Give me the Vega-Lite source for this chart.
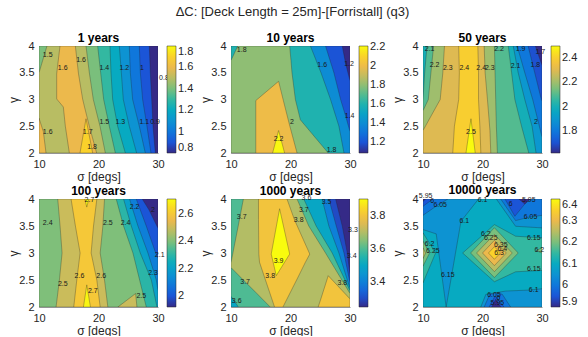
{
"$schema": "https://vega.github.io/schema/vega-lite/v6.json",
"padding": {"left": 7, "top": 6, "right": 0, "bottom": 0},
"title": {"text": "ΔC: [Deck Length = 25m]-[Forristall] (q3)", "fontSize": 13, "fontWeight": "normal", "anchor": "middle", "offset": 13, "color": "#262626"},
"datasets": {
"areas": [
{"p":1,"k":1,"v":0.8,"g":4,"a":10,"b":30},{"p":1,"k":1,"v":0.8,"g":2,"a":10,"b":30},
{"p":1,"k":2,"v":0.9,"g":4,"a":10,"b":28.54},{"p":1,"k":2,"v":0.9,"g":3.5,"a":10,"b":28.71},{"p":1,"k":2,"v":0.9,"g":3,"a":10,"b":28.94},{"p":1,"k":2,"v":0.9,"g":2.5,"a":10,"b":29.16},{"p":1,"k":2,"v":0.9,"g":2,"a":10,"b":29.55},
{"p":1,"k":3,"v":1.0,"g":4,"a":10,"b":26.86},{"p":1,"k":3,"v":1.0,"g":3.5,"a":10,"b":27.03},{"p":1,"k":3,"v":1.0,"g":3,"a":10,"b":27.42},{"p":1,"k":3,"v":1.0,"g":2.5,"a":10,"b":28.15},{"p":1,"k":3,"v":1.0,"g":2,"a":10,"b":28.82},
{"p":1,"k":4,"v":1.1,"g":4,"a":10,"b":25.18},{"p":1,"k":4,"v":1.1,"g":3.5,"a":10,"b":25.35},{"p":1,"k":4,"v":1.1,"g":3,"a":10,"b":25.74},{"p":1,"k":4,"v":1.1,"g":2.5,"a":10,"b":26.86},{"p":1,"k":4,"v":1.1,"g":2,"a":10,"b":27.87},
{"p":1,"k":5,"v":1.2,"g":4,"a":10,"b":23.5},{"p":1,"k":5,"v":1.2,"g":3.5,"a":10,"b":23.84},{"p":1,"k":5,"v":1.2,"g":3,"a":10,"b":24.17},{"p":1,"k":5,"v":1.2,"g":2.5,"a":10,"b":25.18},{"p":1,"k":5,"v":1.2,"g":2,"a":10,"b":26.41},
{"p":1,"k":6,"v":1.3,"g":4,"a":10,"b":21.93},{"p":1,"k":6,"v":1.3,"g":3.5,"a":10,"b":22.1},{"p":1,"k":6,"v":1.3,"g":3,"a":10,"b":22.38},{"p":1,"k":6,"v":1.3,"g":2.5,"a":10,"b":23.22},{"p":1,"k":6,"v":1.3,"g":2,"a":10,"b":24.51},
{"p":1,"k":7,"v":1.4,"g":4,"a":10,"b":19.86},{"p":1,"k":7,"v":1.4,"g":3.5,"a":10,"b":20.36},{"p":1,"k":7,"v":1.4,"g":3,"a":10,"b":20.87},{"p":1,"k":7,"v":1.4,"g":2.5,"a":10,"b":21.82},{"p":1,"k":7,"v":1.4,"g":2,"a":10,"b":22.83},
{"p":1,"k":8,"v":1.5,"g":4,"a":11.34,"b":17.9},{"p":1,"k":8,"v":1.5,"g":3.5,"a":10,"b":18.46},{"p":1,"k":8,"v":1.5,"g":3,"a":10,"b":19.13},{"p":1,"k":8,"v":1.5,"g":2.5,"a":10,"b":20.25},{"p":1,"k":8,"v":1.5,"g":2,"a":10,"b":21.15},
{"p":1,"k":9,"v":1.6,"g":4,"a":13.53,"b":16.11},{"p":1,"k":9,"v":1.6,"g":3.48,"a":12.97,"b":16.64},{"p":1,"k":9,"v":1.6,"g":3.01,"a":12.97,"b":17.33},{"p":1,"k":9,"v":1.6,"g":2.86,"a":14.09,"b":17.65},{"p":1,"k":9,"v":1.6,"g":2.5,"a":14.43,"b":18.46},{"p":1,"k":9,"v":1.6,"g":2,"a":15.1,"b":19.69},
{"p":1,"k":10,"v":1.6,"g":2.65,"a":10,"b":10},{"p":1,"k":10,"v":1.6,"g":2.4,"a":10,"b":10.73},{"p":1,"k":10,"v":1.6,"g":2,"a":10,"b":11.18},
{"p":1,"k":11,"v":1.7,"g":2.64,"a":17.9,"b":17.9},{"p":1,"k":11,"v":1.7,"g":2,"a":16.89,"b":19.02},

{"p":2,"k":1,"v":1.09,"g":4,"a":10,"b":30},{"p":2,"k":1,"v":1.09,"g":2,"a":10,"b":30},
{"p":2,"k":2,"v":1.2,"g":4,"a":10,"b":28.7},{"p":2,"k":2,"v":1.2,"g":3.67,"a":10,"b":29.27},{"p":2,"k":2,"v":1.2,"g":3.35,"a":10,"b":30},{"p":2,"k":2,"v":1.2,"g":2,"a":10,"b":30},
{"p":2,"k":3,"v":1.4,"g":4,"a":10,"b":25.89},{"p":2,"k":3,"v":1.4,"g":3.5,"a":10,"b":27.3},{"p":2,"k":3,"v":1.4,"g":3,"a":10,"b":28.42},{"p":2,"k":3,"v":1.4,"g":2.69,"a":10,"b":29.27},{"p":2,"k":3,"v":1.4,"g":2.4,"a":10,"b":30},{"p":2,"k":3,"v":1.4,"g":2,"a":10,"b":30},
{"p":2,"k":4,"v":1.6,"g":4,"a":10,"b":23.35},{"p":2,"k":4,"v":1.6,"g":3.5,"a":10,"b":25.13},{"p":2,"k":4,"v":1.6,"g":3,"a":10,"b":26.73},{"p":2,"k":4,"v":1.6,"g":2.5,"a":10,"b":28.14},{"p":2,"k":4,"v":1.6,"g":2,"a":10,"b":28.99},
{"p":2,"k":5,"v":1.8,"g":4,"a":11.13,"b":19.86},{"p":2,"k":5,"v":1.8,"g":3.73,"a":10,"b":20.08},{"p":2,"k":5,"v":1.8,"g":3.5,"a":10,"b":20.25},{"p":2,"k":5,"v":1.8,"g":3,"a":10,"b":20.82},{"p":2,"k":5,"v":1.8,"g":2.62,"a":10,"b":21.66},{"p":2,"k":5,"v":1.8,"g":2,"a":10,"b":26.34},
{"p":2,"k":6,"v":2.0,"g":3.34,"a":18,"b":18},{"p":2,"k":6,"v":2.0,"g":2.98,"a":14.17,"b":18.8},{"p":2,"k":6,"v":2.0,"g":2.54,"a":14.17,"b":19.8},{"p":2,"k":6,"v":2.0,"g":2,"a":14.17,"b":21.1},
{"p":2,"k":7,"v":2.2,"g":2.42,"a":18,"b":18},{"p":2,"k":7,"v":2.2,"g":2,"a":16.99,"b":19.01},

{"p":3,"k":1,"v":1.62,"g":4,"a":10,"b":30},{"p":3,"k":1,"v":1.62,"g":2,"a":10,"b":30},
{"p":3,"k":2,"v":1.7,"g":4,"a":10,"b":28.89},{"p":3,"k":2,"v":1.7,"g":3.64,"a":10,"b":30},{"p":3,"k":2,"v":1.7,"g":2,"a":10,"b":30},
{"p":3,"k":3,"v":1.8,"g":4,"a":10,"b":27.67},{"p":3,"k":3,"v":1.8,"g":3.5,"a":10,"b":28.78},{"p":3,"k":3,"v":1.8,"g":3,"a":10,"b":29.89},{"p":3,"k":3,"v":1.8,"g":2.97,"a":10,"b":30},{"p":3,"k":3,"v":1.8,"g":2,"a":10,"b":30},
{"p":3,"k":4,"v":1.9,"g":4,"a":10,"b":25.83},{"p":3,"k":4,"v":1.9,"g":3.5,"a":10,"b":27.11},{"p":3,"k":4,"v":1.9,"g":3,"a":10,"b":28.44},{"p":3,"k":4,"v":1.9,"g":2.5,"a":10,"b":29.56},{"p":3,"k":4,"v":1.9,"g":2.3,"a":10,"b":30},{"p":3,"k":4,"v":1.9,"g":2,"a":10,"b":30},
{"p":3,"k":5,"v":2.0,"g":4,"a":10,"b":25.17},{"p":3,"k":5,"v":2.0,"g":3.5,"a":10,"b":26.0},{"p":3,"k":5,"v":2.0,"g":3,"a":10,"b":27.11},{"p":3,"k":5,"v":2.0,"g":2.5,"a":10,"b":28.33},{"p":3,"k":5,"v":2.0,"g":2,"a":10,"b":29.0},
{"p":3,"k":6,"v":2.1,"g":4,"a":10.67,"b":24.33},{"p":3,"k":6,"v":2.1,"g":3.5,"a":10.28,"b":24.89},{"p":3,"k":6,"v":2.1,"g":3,"a":10,"b":25.44},{"p":3,"k":6,"v":2.1,"g":2.5,"a":10,"b":26.56},{"p":3,"k":6,"v":2.1,"g":2,"a":10,"b":27.78},
{"p":3,"k":7,"v":2.2,"g":4,"a":11.78,"b":22.0},{"p":3,"k":7,"v":2.2,"g":3.5,"a":11.33,"b":22.11},{"p":3,"k":7,"v":2.2,"g":3,"a":10.89,"b":22.22},{"p":3,"k":7,"v":2.2,"g":2.79,"a":10,"b":22.26},{"p":3,"k":7,"v":2.2,"g":2.5,"a":10,"b":22.33},{"p":3,"k":7,"v":2.2,"g":2,"a":10,"b":22.5},
{"p":3,"k":8,"v":2.3,"g":4,"a":13.61,"b":20.28},{"p":3,"k":8,"v":2.3,"g":3.5,"a":13.33,"b":20.44},{"p":3,"k":8,"v":2.3,"g":3,"a":12.89,"b":20.83},{"p":3,"k":8,"v":2.3,"g":2.42,"a":10,"b":21.25},{"p":3,"k":8,"v":2.3,"g":2,"a":10,"b":21.39},
{"p":3,"k":9,"v":2.4,"g":4,"a":16.0,"b":19.22},{"p":3,"k":9,"v":2.4,"g":3.5,"a":16.11,"b":19.33},{"p":3,"k":9,"v":2.4,"g":3,"a":16.0,"b":19.33},{"p":3,"k":9,"v":2.4,"g":2.5,"a":15.28,"b":19.56},{"p":3,"k":9,"v":2.4,"g":2,"a":15.0,"b":19.72},
{"p":3,"k":10,"v":2.5,"g":2.64,"a":18.06,"b":18.06},{"p":3,"k":10,"v":2.5,"g":2,"a":17.22,"b":18.78},

{"p":4,"k":1,"v":1.92,"g":4,"a":10,"b":30},{"p":4,"k":1,"v":1.92,"g":2,"a":10,"b":30},
{"p":4,"k":2,"v":2.0,"g":4,"a":10,"b":27.36},{"p":4,"k":2,"v":2.0,"g":3.8,"a":10,"b":28.48},{"p":4,"k":2,"v":2.0,"g":3.46,"a":10,"b":30},{"p":4,"k":2,"v":2.0,"g":2,"a":10,"b":30},
{"p":4,"k":3,"v":2.1,"g":4,"a":10,"b":26.35},{"p":4,"k":3,"v":2.1,"g":3.5,"a":10,"b":28.03},{"p":4,"k":3,"v":2.1,"g":3,"a":10,"b":29.61},{"p":4,"k":3,"v":2.1,"g":2.9,"a":10,"b":30},{"p":4,"k":3,"v":2.1,"g":2,"a":10,"b":30},
{"p":4,"k":4,"v":2.2,"g":4,"a":10,"b":25.22},{"p":4,"k":4,"v":2.2,"g":3.5,"a":10,"b":26.63},{"p":4,"k":4,"v":2.2,"g":3,"a":10,"b":28.31},{"p":4,"k":4,"v":2.2,"g":2.5,"a":10,"b":29.72},{"p":4,"k":4,"v":2.2,"g":2.3,"a":10,"b":30},{"p":4,"k":4,"v":2.2,"g":2,"a":10,"b":30},
{"p":4,"k":5,"v":2.3,"g":4,"a":10.73,"b":24.21},{"p":4,"k":5,"v":2.3,"g":3.5,"a":10.34,"b":25.51},{"p":4,"k":5,"v":2.3,"g":3.1,"a":10,"b":26.72},{"p":4,"k":5,"v":2.3,"g":3,"a":10,"b":27.02},{"p":4,"k":5,"v":2.3,"g":2.5,"a":10,"b":28.88},{"p":4,"k":5,"v":2.3,"g":2,"a":10,"b":29.83},
{"p":4,"k":6,"v":2.4,"g":4,"a":10,"b":22.98},{"p":4,"k":6,"v":2.4,"g":3.5,"a":10,"b":24.21},{"p":4,"k":6,"v":2.4,"g":3,"a":10,"b":25.79},{"p":4,"k":6,"v":2.4,"g":2.5,"a":10,"b":26.91},{"p":4,"k":6,"v":2.4,"g":2,"a":10,"b":28.03},
{"p":4,"k":7,"v":2.5,"g":4,"a":13.15,"b":21.01},{"p":4,"k":7,"v":2.5,"g":3.5,"a":13.54,"b":20.73},{"p":4,"k":7,"v":2.5,"g":3,"a":13.88,"b":20.28},{"p":4,"k":7,"v":2.5,"g":2.5,"a":13.43,"b":21.01},{"p":4,"k":7,"v":2.5,"g":2,"a":12.87,"b":21.57},
{"p":4,"k":8,"v":2.5,"g":2.25,"a":26.24,"b":26.24},{"p":4,"k":8,"v":2.5,"g":2,"a":23.26,"b":26.46},
{"p":4,"k":9,"v":2.6,"g":4,"a":15.39,"b":19.72},{"p":4,"k":9,"v":2.6,"g":3.5,"a":16.12,"b":19.16},{"p":4,"k":9,"v":2.6,"g":3,"a":16.91,"b":18.76},{"p":4,"k":9,"v":2.6,"g":2.5,"a":16.35,"b":19.72},{"p":4,"k":9,"v":2.6,"g":2,"a":15.84,"b":20.28},
{"p":4,"k":10,"v":2.7,"g":4,"a":17.7,"b":18.37},{"p":4,"k":10,"v":2.7,"g":3.85,"a":18.03,"b":18.03},
{"p":4,"k":11,"v":2.7,"g":2.41,"a":18.03,"b":18.03},{"p":4,"k":11,"v":2.7,"g":2,"a":17.47,"b":18.65},

{"p":5,"k":1,"v":3.25,"g":4,"a":10,"b":30},{"p":5,"k":1,"v":3.25,"g":2,"a":10,"b":30},
{"p":5,"k":2,"v":3.3,"g":4,"a":10,"b":27.58},{"p":5,"k":2,"v":3.3,"g":3.5,"a":10,"b":28.7},{"p":5,"k":2,"v":3.3,"g":3,"a":10,"b":29.55},{"p":5,"k":2,"v":3.3,"g":2.6,"a":10,"b":30},{"p":5,"k":2,"v":3.3,"g":2,"a":10,"b":30},
{"p":5,"k":3,"v":3.4,"g":4,"a":10,"b":26.45},{"p":5,"k":3,"v":3.4,"g":3.5,"a":10,"b":27.69},{"p":5,"k":3,"v":3.4,"g":3,"a":10,"b":28.99},{"p":5,"k":3,"v":3.4,"g":2.45,"a":10,"b":30},{"p":5,"k":3,"v":3.4,"g":2,"a":10,"b":30},
{"p":5,"k":4,"v":3.5,"g":4,"a":10,"b":25.32},{"p":5,"k":4,"v":3.5,"g":3.5,"a":10,"b":26.45},{"p":5,"k":4,"v":3.5,"g":3,"a":10,"b":28.14},{"p":5,"k":4,"v":3.5,"g":2.5,"a":10,"b":29.55},{"p":5,"k":4,"v":3.5,"g":2.35,"a":10,"b":30},{"p":5,"k":4,"v":3.5,"g":2,"a":10,"b":30},
{"p":5,"k":5,"v":3.6,"g":4,"a":10,"b":22.23},{"p":5,"k":5,"v":3.6,"g":3.5,"a":10,"b":24.31},{"p":5,"k":5,"v":3.6,"g":3,"a":10,"b":27.01},{"p":5,"k":5,"v":3.6,"g":2.5,"a":10,"b":29.15},{"p":5,"k":5,"v":3.6,"g":2.3,"a":10,"b":30},{"p":5,"k":5,"v":3.6,"g":2.2,"a":10,"b":30},{"p":5,"k":5,"v":3.6,"g":2,"a":11.24,"b":30},
{"p":5,"k":6,"v":3.7,"g":4,"a":12.08,"b":21.1},{"p":5,"k":6,"v":3.7,"g":3.5,"a":11.21,"b":23.07},{"p":5,"k":6,"v":3.7,"g":3,"a":10.32,"b":25.89},{"p":5,"k":6,"v":3.7,"g":2.82,"a":10,"b":26.87},{"p":5,"k":6,"v":3.7,"g":2.73,"a":10,"b":27.37},{"p":5,"k":6,"v":3.7,"g":2.5,"a":12.07,"b":28.63},{"p":5,"k":6,"v":3.7,"g":2.25,"a":14.35,"b":30},{"p":5,"k":6,"v":3.7,"g":2,"a":16.59,"b":30},
{"p":5,"k":7,"v":3.8,"g":4,"a":14.62,"b":19.41},{"p":5,"k":7,"v":3.8,"g":3.62,"a":14.62,"b":20.65},{"p":5,"k":7,"v":3.8,"g":2.98,"a":14.68,"b":23.24},{"p":5,"k":7,"v":3.8,"g":2.83,"a":14.79,"b":22.51},{"p":5,"k":7,"v":3.8,"g":2.54,"a":15.67,"b":21.21},{"p":5,"k":7,"v":3.8,"g":2,"a":17.32,"b":18.73},
{"p":5,"k":8,"v":3.8,"g":2.58,"a":26.34,"b":26.34},{"p":5,"k":8,"v":3.8,"g":2.15,"a":25.1,"b":30},{"p":5,"k":8,"v":3.8,"g":2,"a":24.65,"b":30},
{"p":5,"k":9,"v":3.9,"g":3.82,"a":18.17,"b":18.17},{"p":5,"k":9,"v":3.9,"g":2.98,"a":16.76,"b":19.86},{"p":5,"k":9,"v":3.9,"g":2.58,"a":17.61,"b":17.61},

{"p":6,"k":1,"v":6.1,"g":4,"a":10,"b":30},{"p":6,"k":1,"v":6.1,"g":2,"a":10,"b":30},
{"p":6,"k":2,"v":6.05,"g":4,"a":10,"b":19.33},{"p":6,"k":2,"v":6.05,"g":3.588,"a":10,"b":16.39},{"p":6,"k":2,"v":6.05,"g":3.434,"a":10,"b":16.14},{"p":6,"k":2,"v":6.05,"g":3.354,"a":12.22,"b":16.02},{"p":6,"k":2,"v":6.05,"g":2,"a":13.89,"b":13.89},
{"p":6,"k":3,"v":6.05,"g":4,"a":22.33,"b":30},{"p":6,"k":3,"v":6.05,"g":3.495,"a":25.56,"b":30},{"p":6,"k":3,"v":6.05,"g":3.465,"a":30,"b":30},
{"p":6,"k":4,"v":6.05,"g":2.338,"a":30,"b":30},{"p":6,"k":4,"v":6.05,"g":2.314,"a":27.94,"b":30},{"p":6,"k":4,"v":6.05,"g":2.295,"a":23.89,"b":30},{"p":6,"k":4,"v":6.05,"g":2.234,"a":20.56,"b":30},{"p":6,"k":4,"v":6.05,"g":2,"a":19.72,"b":30},
{"p":6,"k":5,"v":6.0,"g":4,"a":10,"b":14.17},{"p":6,"k":5,"v":6.0,"g":3.877,"a":10,"b":12.33},{"p":6,"k":5,"v":6.0,"g":3.698,"a":10,"b":10},
{"p":6,"k":6,"v":6.0,"g":4,"a":23.06,"b":30},{"p":6,"k":6,"v":6.0,"g":3.698,"a":24.94,"b":30},{"p":6,"k":6,"v":6.0,"g":3.662,"a":25.17,"b":27.78},{"p":6,"k":6,"v":6.0,"g":3.6,"a":25.56,"b":25.56},
{"p":6,"k":7,"v":6.0,"g":2.265,"a":22.5,"b":22.5},{"p":6,"k":7,"v":6.0,"g":2.234,"a":21.22,"b":23.33},{"p":6,"k":7,"v":6.0,"g":2,"a":20.28,"b":24.72},
{"p":6,"k":8,"v":5.95,"g":4,"a":10,"b":11.67},{"p":6,"k":8,"v":5.95,"g":3.865,"a":10,"b":10},
{"p":6,"k":9,"v":5.95,"g":4,"a":23.78,"b":27.78},{"p":6,"k":9,"v":5.95,"g":3.68,"a":25.44,"b":25.44},
{"p":6,"k":10,"v":5.95,"g":2.203,"a":22.11,"b":22.11},{"p":6,"k":10,"v":5.95,"g":2,"a":21.11,"b":23.61},
{"p":6,"k":11,"v":5.9,"g":4,"a":10,"b":10.44},{"p":6,"k":11,"v":5.9,"g":3.957,"a":10,"b":10},
{"p":6,"k":12,"v":5.9,"g":4,"a":26.11,"b":28.06},{"p":6,"k":12,"v":5.9,"g":3.908,"a":27.11,"b":27.11},
{"p":6,"k":13,"v":5.9,"g":2.142,"a":22.22,"b":22.22},{"p":6,"k":13,"v":5.9,"g":2,"a":21.56,"b":23.06},
{"p":6,"k":14,"v":6.15,"g":3.526,"a":22,"b":22},{"p":6,"k":14,"v":6.15,"g":3.311,"a":19.83,"b":25.56},{"p":6,"k":14,"v":6.15,"g":3.28,"a":19.52,"b":30},{"p":6,"k":14,"v":6.15,"g":3.0,"a":16.67,"b":30},{"p":6,"k":14,"v":6.15,"g":2.677,"a":19.89,"b":30},{"p":6,"k":14,"v":6.15,"g":2.652,"a":20.14,"b":25.56},{"p":6,"k":14,"v":6.15,"g":2.468,"a":22,"b":22},
{"p":6,"k":15,"v":6.15,"g":3.372,"a":10,"b":10},{"p":6,"k":15,"v":6.15,"g":3.0,"a":10,"b":12.11},{"p":6,"k":15,"v":6.15,"g":2.449,"a":10,"b":10},
{"p":6,"k":16,"v":6.2,"g":3.468,"a":22,"b":22},{"p":6,"k":16,"v":6.2,"g":3.0,"a":18,"b":26},{"p":6,"k":16,"v":6.2,"g":2.545,"a":22,"b":22},
{"p":6,"k":17,"v":6.2,"g":3.218,"a":10,"b":10},{"p":6,"k":17,"v":6.2,"g":3.0,"a":10,"b":11.11},{"p":6,"k":17,"v":6.2,"g":2.757,"a":10,"b":10},
{"p":6,"k":18,"v":6.2,"g":3.095,"a":30,"b":30},{"p":6,"k":18,"v":6.2,"g":3.046,"a":29.0,"b":30},{"p":6,"k":18,"v":6.2,"g":3.0,"a":30,"b":30},
{"p":6,"k":19,"v":6.25,"g":3.345,"a":22,"b":22},{"p":6,"k":19,"v":6.25,"g":3.0,"a":19,"b":25},{"p":6,"k":19,"v":6.25,"g":2.655,"a":22,"b":22},
{"p":6,"k":20,"v":6.25,"g":3.095,"a":10,"b":10},{"p":6,"k":20,"v":6.25,"g":3.0,"a":10,"b":10.44},{"p":6,"k":20,"v":6.25,"g":2.898,"a":10,"b":10},
{"p":6,"k":21,"v":6.3,"g":3.234,"a":22,"b":22},{"p":6,"k":21,"v":6.3,"g":3.0,"a":20,"b":24},{"p":6,"k":21,"v":6.3,"g":2.766,"a":22,"b":22},
{"p":6,"k":22,"v":6.35,"g":3.117,"a":22,"b":22},{"p":6,"k":22,"v":6.35,"g":3.0,"a":21,"b":23},{"p":6,"k":22,"v":6.35,"g":2.883,"a":22,"b":22}
],
"labels": [
{"p":1,"s":11.46,"g":3.84,"t":"1.5"},{"p":1,"s":13.98,"g":3.59,"t":"1.6"},{"p":1,"s":17.06,"g":3.73,"t":"1.6"},{"p":1,"s":20.98,"g":3.59,"t":"1.4"},{"p":1,"s":24.34,"g":3.59,"t":"1.2"},{"p":1,"s":27.31,"g":3.59,"t":"1"},{"p":1,"s":31.0,"g":3.41,"t":"0.8"},{"p":1,"s":20.98,"g":2.58,"t":"1.5"},{"p":1,"s":23.67,"g":2.58,"t":"1.3"},{"p":1,"s":27.7,"g":2.58,"t":"1.1"},{"p":1,"s":29.5,"g":2.58,"t":"0.9"},{"p":1,"s":11.46,"g":2.4,"t":"1.6"},{"p":1,"s":18.18,"g":2.4,"t":"1.7"},{"p":1,"s":18.91,"g":2.12,"t":"1.8"},
{"p":2,"s":11.8,"g":3.92,"t":"1.8"},{"p":2,"s":25.32,"g":3.65,"t":"1.6"},{"p":2,"s":29.83,"g":3.67,"t":"1.2"},{"p":2,"s":20.25,"g":2.58,"t":"2"},{"p":2,"s":18.0,"g":2.26,"t":"2.2"},{"p":2,"s":29.94,"g":2.69,"t":"1.4"},{"p":2,"s":26.9,"g":2.06,"t":"1.8"},
{"p":3,"s":11.11,"g":3.94,"t":"2.1"},{"p":3,"s":11.94,"g":3.65,"t":"2.2"},{"p":3,"s":14.17,"g":3.58,"t":"2.3"},{"p":3,"s":16.94,"g":3.58,"t":"2.4"},{"p":3,"s":19.78,"g":3.58,"t":"2.4"},{"p":3,"s":21.22,"g":3.58,"t":"2.3"},{"p":3,"s":22.78,"g":3.94,"t":"2.2"},{"p":3,"s":26.39,"g":3.95,"t":"1.9"},{"p":3,"s":29.72,"g":3.89,"t":"1.7"},{"p":3,"s":25.56,"g":3.63,"t":"2.1"},{"p":3,"s":28.89,"g":3.65,"t":"1.8"},{"p":3,"s":29.0,"g":2.58,"t":"2"},{"p":3,"s":18.06,"g":2.39,"t":"2.5"},
{"p":4,"s":18.48,"g":3.99,"t":"2.7"},{"p":4,"s":26.07,"g":3.86,"t":"2.2"},{"p":4,"s":29.16,"g":3.8,"t":"2"},{"p":4,"s":11.46,"g":3.56,"t":"2.4"},{"p":4,"s":21.57,"g":3.56,"t":"2.5"},{"p":4,"s":24.55,"g":3.56,"t":"2.4"},{"p":4,"s":30.28,"g":2.97,"t":"2.1"},{"p":4,"s":29.16,"g":2.63,"t":"2.3"},{"p":4,"s":16.8,"g":2.57,"t":"2.6"},{"p":4,"s":20.45,"g":2.57,"t":"2.6"},{"p":4,"s":13.99,"g":2.42,"t":"2.5"},{"p":4,"s":19.04,"g":2.3,"t":"2.7"},{"p":4,"s":27.19,"g":2.2,"t":"2.5"},
{"p":5,"s":22.68,"g":4.02,"t":"3.6"},{"p":5,"s":26.06,"g":3.94,"t":"3.5"},{"p":5,"s":11.8,"g":3.66,"t":"3.7"},{"p":5,"s":22.23,"g":3.8,"t":"3.7"},{"p":5,"s":21.38,"g":3.62,"t":"3.8"},{"p":5,"s":30.5,"g":3.42,"t":"3.3"},{"p":5,"s":30.28,"g":2.95,"t":"3.4"},{"p":5,"s":18.0,"g":2.85,"t":"3.9"},{"p":5,"s":16.59,"g":2.57,"t":"3.8"},{"p":5,"s":12.37,"g":2.47,"t":"3.7"},{"p":5,"s":28.7,"g":2.45,"t":"3.8"},{"p":5,"s":10.96,"g":2.11,"t":"3.6"},
{"p":6,"s":10.44,"g":4.05,"t":"5.95"},{"p":6,"s":11.56,"g":3.97,"t":"6"},{"p":6,"s":12.89,"g":3.88,"t":"6.05"},{"p":6,"s":20.0,"g":3.99,"t":"6.1"},{"p":6,"s":27.78,"g":3.99,"t":"5.95"},{"p":6,"s":24.72,"g":3.91,"t":"6"},{"p":6,"s":28.06,"g":3.66,"t":"6.05"},{"p":6,"s":16.94,"g":3.59,"t":"6.1"},{"p":6,"s":20.56,"g":3.35,"t":"6.2"},{"p":6,"s":21.39,"g":3.28,"t":"6.25"},{"p":6,"s":23.06,"g":3.15,"t":"6.35"},{"p":6,"s":23.33,"g":3.08,"t":"6.4"},{"p":6,"s":22.78,"g":3.0,"t":"6.3"},{"p":6,"s":11.11,"g":3.16,"t":"6.2"},{"p":6,"s":11.67,"g":3.03,"t":"6.25"},{"p":6,"s":14.17,"g":2.6,"t":"6.15"},{"p":6,"s":29.56,"g":3.06,"t":"6.2"},{"p":6,"s":28.61,"g":3.27,"t":"6.15"},{"p":6,"s":28.61,"g":2.7,"t":"6.15"},{"p":6,"s":28.61,"g":2.31,"t":"6.1"},{"p":6,"s":21.94,"g":2.23,"t":"6.05"},{"p":6,"s":22.67,"g":2.16,"t":"6"},{"p":6,"s":22.5,"g":2.08,"t":"5.95"}
]
},
"vconcat": [
{"hconcat": [
{"title": "1 years", "width": 119, "height": 107, "layer": [
 {"data": {"name": "areas"}, "transform": [{"filter": "datum.p == 1"}],
  "mark": {"type": "area", "orient": "horizontal", "clip": true, "stroke": "#222222", "strokeWidth": 0.5, "strokeOpacity": 0.6},
  "encoding": {
   "y": {"field": "g", "type": "quantitative", "title": "γ", "scale": {"domain": [2, 4], "nice": false, "zero": false}, "axis": {"values": [2, 2.5, 3, 3.5, 4], "format": "~g", "titleX": -19, "labelOverlap": false}},
   "x": {"field": "a", "type": "quantitative", "title": "σ [degs]", "scale": {"domain": [10, 30], "nice": false, "zero": false}, "axis": {"values": [10, 20, 30], "labelFlush": false}},
   "x2": {"field": "b"},
   "color": {"field": "v", "type": "quantitative", "title": null, "scale": {"domain": [0.8, 1.8], "interpolate": "rgb", "range": ["#352a87","#1b55d7","#0f77db","#0d93d2","#07aac1","#33b8a1","#7abf7c","#b8bd63","#ecb94c","#fad12b","#f9fb0e"]}, "legend": {"values": [0.8, 1, 1.2, 1.4, 1.6, 1.8], "format": "~g", "orient": "none", "legendX": 128, "legendY": 0, "direction": "vertical"}},
   "detail": {"field": "k", "type": "nominal"}}},
 {"data": {"name": "labels"}, "transform": [{"filter": "datum.p == 1"}],
  "mark": {"type": "text", "fontSize": 7, "color": "#1a1a1a"},
  "encoding": {"x": {"field": "s", "type": "quantitative", "title": "σ [degs]", "axis": {"values": [10, 20, 30], "labelFlush": false}}, "y": {"field": "g", "type": "quantitative", "title": "γ", "axis": {"values": [2, 2.5, 3, 3.5, 4], "format": "~g", "titleX": -19, "labelOverlap": false}}, "text": {"field": "t"}}}
]},
{"title": "10 years", "width": 119, "height": 107, "layer": [
 {"data": {"name": "areas"}, "transform": [{"filter": "datum.p == 2"}],
  "mark": {"type": "area", "orient": "horizontal", "clip": true, "stroke": "#222222", "strokeWidth": 0.5, "strokeOpacity": 0.6},
  "encoding": {
   "y": {"field": "g", "type": "quantitative", "title": "γ", "scale": {"domain": [2, 4], "nice": false, "zero": false}, "axis": {"values": [2, 2.5, 3, 3.5, 4], "format": "~g", "titleX": -19, "labelOverlap": false}},
   "x": {"field": "a", "type": "quantitative", "title": "σ [degs]", "scale": {"domain": [10, 30], "nice": false, "zero": false}, "axis": {"values": [10, 20, 30], "labelFlush": false}},
   "x2": {"field": "b"},
   "color": {"field": "v", "type": "quantitative", "title": null, "scale": {"domain": [1.09, 2.21], "interpolate": "rgb", "range": ["#352a87","#1b55d7","#0f77db","#0d93d2","#07aac1","#33b8a1","#7abf7c","#b8bd63","#ecb94c","#fad12b","#f9fb0e"]}, "legend": {"values": [1.2, 1.4, 1.6, 1.8, 2, 2.2], "format": "~g", "orient": "none", "legendX": 128, "legendY": 0, "direction": "vertical"}},
   "detail": {"field": "k", "type": "nominal"}}},
 {"data": {"name": "labels"}, "transform": [{"filter": "datum.p == 2"}],
  "mark": {"type": "text", "fontSize": 7, "color": "#1a1a1a"},
  "encoding": {"x": {"field": "s", "type": "quantitative", "title": "σ [degs]", "axis": {"values": [10, 20, 30], "labelFlush": false}}, "y": {"field": "g", "type": "quantitative", "title": "γ", "axis": {"values": [2, 2.5, 3, 3.5, 4], "format": "~g", "titleX": -19, "labelOverlap": false}}, "text": {"field": "t"}}}
]},
{"title": "50 years", "width": 119, "height": 107, "layer": [
 {"data": {"name": "areas"}, "transform": [{"filter": "datum.p == 3"}],
  "mark": {"type": "area", "orient": "horizontal", "clip": true, "stroke": "#222222", "strokeWidth": 0.5, "strokeOpacity": 0.6},
  "encoding": {
   "y": {"field": "g", "type": "quantitative", "title": "γ", "scale": {"domain": [2, 4], "nice": false, "zero": false}, "axis": {"values": [2, 2.5, 3, 3.5, 4], "format": "~g", "titleX": -19, "labelOverlap": false}},
   "x": {"field": "a", "type": "quantitative", "title": "σ [degs]", "scale": {"domain": [10, 30], "nice": false, "zero": false}, "axis": {"values": [10, 20, 30], "labelFlush": false}},
   "x2": {"field": "b"},
   "color": {"field": "v", "type": "quantitative", "title": null, "scale": {"domain": [1.62, 2.5], "interpolate": "rgb", "range": ["#352a87","#1b55d7","#0f77db","#0d93d2","#07aac1","#33b8a1","#7abf7c","#b8bd63","#ecb94c","#fad12b","#f9fb0e"]}, "legend": {"values": [1.8, 2, 2.2, 2.4], "format": "~g", "orient": "none", "legendX": 128, "legendY": 0, "direction": "vertical"}},
   "detail": {"field": "k", "type": "nominal"}}},
 {"data": {"name": "labels"}, "transform": [{"filter": "datum.p == 3"}],
  "mark": {"type": "text", "fontSize": 7, "color": "#1a1a1a"},
  "encoding": {"x": {"field": "s", "type": "quantitative", "title": "σ [degs]", "axis": {"values": [10, 20, 30], "labelFlush": false}}, "y": {"field": "g", "type": "quantitative", "title": "γ", "axis": {"values": [2, 2.5, 3, 3.5, 4], "format": "~g", "titleX": -19, "labelOverlap": false}}, "text": {"field": "t"}}}
]}
], "resolve": {"scale": {"color": "independent"}, "legend": {"color": "independent"}}},
{"hconcat": [
{"title": "100 years", "width": 119, "height": 108, "layer": [
 {"data": {"name": "areas"}, "transform": [{"filter": "datum.p == 4"}],
  "mark": {"type": "area", "orient": "horizontal", "clip": true, "stroke": "#222222", "strokeWidth": 0.5, "strokeOpacity": 0.6},
  "encoding": {
   "y": {"field": "g", "type": "quantitative", "title": "γ", "scale": {"domain": [2, 4], "nice": false, "zero": false}, "axis": {"values": [2, 2.5, 3, 3.5, 4], "format": "~g", "titleX": -19, "labelOverlap": false}},
   "x": {"field": "a", "type": "quantitative", "title": "σ [degs]", "scale": {"domain": [10, 30], "nice": false, "zero": false}, "axis": {"values": [10, 20, 30], "labelFlush": false}},
   "x2": {"field": "b"},
   "color": {"field": "v", "type": "quantitative", "title": null, "scale": {"domain": [1.92, 2.71], "interpolate": "rgb", "range": ["#352a87","#1b55d7","#0f77db","#0d93d2","#07aac1","#33b8a1","#7abf7c","#b8bd63","#ecb94c","#fad12b","#f9fb0e"]}, "legend": {"values": [2, 2.2, 2.4, 2.6], "format": "~g", "gradientLength": 108, "orient": "none", "legendX": 128, "legendY": 0, "direction": "vertical"}},
   "detail": {"field": "k", "type": "nominal"}}},
 {"data": {"name": "labels"}, "transform": [{"filter": "datum.p == 4"}],
  "mark": {"type": "text", "fontSize": 7, "color": "#1a1a1a"},
  "encoding": {"x": {"field": "s", "type": "quantitative", "title": "σ [degs]", "axis": {"values": [10, 20, 30], "labelFlush": false}}, "y": {"field": "g", "type": "quantitative", "title": "γ", "axis": {"values": [2, 2.5, 3, 3.5, 4], "format": "~g", "titleX": -19, "labelOverlap": false}}, "text": {"field": "t"}}}
]},
{"title": "1000 years", "width": 119, "height": 108, "layer": [
 {"data": {"name": "areas"}, "transform": [{"filter": "datum.p == 5"}],
  "mark": {"type": "area", "orient": "horizontal", "clip": true, "stroke": "#222222", "strokeWidth": 0.5, "strokeOpacity": 0.6},
  "encoding": {
   "y": {"field": "g", "type": "quantitative", "title": "γ", "scale": {"domain": [2, 4], "nice": false, "zero": false}, "axis": {"values": [2, 2.5, 3, 3.5, 4], "format": "~g", "titleX": -19, "labelOverlap": false}},
   "x": {"field": "a", "type": "quantitative", "title": "σ [degs]", "scale": {"domain": [10, 30], "nice": false, "zero": false}, "axis": {"values": [10, 20, 30], "labelFlush": false}},
   "x2": {"field": "b"},
   "color": {"field": "v", "type": "quantitative", "title": null, "scale": {"domain": [3.25, 3.9], "interpolate": "rgb", "range": ["#352a87","#1b55d7","#0f77db","#0d93d2","#07aac1","#33b8a1","#7abf7c","#b8bd63","#ecb94c","#fad12b","#f9fb0e"]}, "legend": {"values": [3.4, 3.6, 3.8], "format": "~g", "gradientLength": 108, "orient": "none", "legendX": 128, "legendY": 0, "direction": "vertical"}},
   "detail": {"field": "k", "type": "nominal"}}},
 {"data": {"name": "labels"}, "transform": [{"filter": "datum.p == 5"}],
  "mark": {"type": "text", "fontSize": 7, "color": "#1a1a1a"},
  "encoding": {"x": {"field": "s", "type": "quantitative", "title": "σ [degs]", "axis": {"values": [10, 20, 30], "labelFlush": false}}, "y": {"field": "g", "type": "quantitative", "title": "γ", "axis": {"values": [2, 2.5, 3, 3.5, 4], "format": "~g", "titleX": -19, "labelOverlap": false}}, "text": {"field": "t"}}}
]},
{"title": "10000 years", "width": 119, "height": 108, "layer": [
 {"data": {"name": "areas"}, "transform": [{"filter": "datum.p == 6"}],
  "mark": {"type": "area", "orient": "horizontal", "clip": true, "stroke": "#222222", "strokeWidth": 0.5, "strokeOpacity": 0.6},
  "encoding": {
   "y": {"field": "g", "type": "quantitative", "title": "γ", "scale": {"domain": [2, 4], "nice": false, "zero": false}, "axis": {"values": [2, 2.5, 3, 3.5, 4], "format": "~g", "titleX": -19, "labelOverlap": false}},
   "x": {"field": "a", "type": "quantitative", "title": "σ [degs]", "scale": {"domain": [10, 30], "nice": false, "zero": false}, "axis": {"values": [10, 20, 30], "labelFlush": false}},
   "x2": {"field": "b"},
   "color": {"field": "v", "type": "quantitative", "title": null, "scale": {"domain": [5.9, 6.4], "interpolate": "rgb", "range": ["#352a87","#1b55d7","#0f77db","#0d93d2","#07aac1","#33b8a1","#7abf7c","#b8bd63","#ecb94c","#fad12b","#f9fb0e"]}, "legend": {"values": [5.9, 6, 6.1, 6.2, 6.3, 6.4], "format": "~g", "gradientLength": 108, "orient": "none", "legendX": 128, "legendY": 0, "direction": "vertical"}},
   "detail": {"field": "k", "type": "nominal"}}},
 {"data": {"name": "labels"}, "transform": [{"filter": "datum.p == 6"}],
  "mark": {"type": "text", "fontSize": 7, "color": "#1a1a1a"},
  "encoding": {"x": {"field": "s", "type": "quantitative", "title": "σ [degs]", "axis": {"values": [10, 20, 30], "labelFlush": false}}, "y": {"field": "g", "type": "quantitative", "title": "γ", "axis": {"values": [2, 2.5, 3, 3.5, 4], "format": "~g", "titleX": -19, "labelOverlap": false}}, "text": {"field": "t"}}}
]}
], "resolve": {"scale": {"color": "independent"}, "legend": {"color": "independent"}}}
],
"resolve": {"scale": {"color": "independent"}, "legend": {"color": "independent"}},
"spacing": 2,
"config": {
 "font": "Liberation Sans",
 "view": {"stroke": null},
 "concat": {"spacing": 5},
 "title": {"fontSize": 12, "fontWeight": "bold", "color": "#000000", "offset": -5},
 "axis": {"labelFontSize": 11, "titleFontSize": 12, "labelColor": "#262626", "titleColor": "#262626", "titleFontWeight": "normal", "grid": false, "ticks": false, "labelPadding": 5, "titlePadding": 2, "domainColor": "#262626", "domainWidth": 0.5},
 "legend": {"gradientLength": 107, "gradientThickness": 9, "labelFontSize": 11, "labelColor": "#262626", "offset": 9, "padding": 0, "labelOffset": 4, "labelBaseline": "middle", "gradientStrokeColor": "#262626", "gradientStrokeWidth": 0.5}
}
}
